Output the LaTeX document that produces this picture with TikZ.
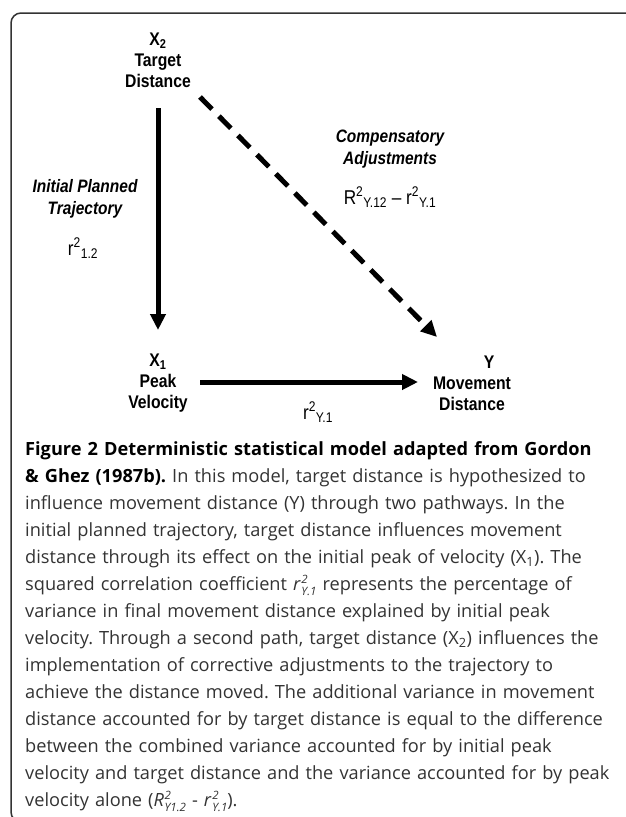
\documentclass[tikz,border=0pt]{standalone}
\usepackage{fontspec}
\setmainfont{Open Sans}
\newfontfamily\arialf[FakeStretch=0.86]{Liberation Sans}
\usetikzlibrary{arrows.meta,calc}
\newcommand\stk[3]{\textit{#1}\kern0.6pt\raisebox{-0.5ex}{\fontsize{11.5}{9.5}\selectfont\itshape\begin{tabular}[b]{@{}l@{}}#2\\#3\end{tabular}}}
\begin{document}
\begin{tikzpicture}[x=1pt,y=-1pt,
  lbl/.style={font=\arialf\bfseries\fontsize{18.3}{21}\selectfont, align=center, inner sep=0pt},
  ilbl/.style={font=\arialf\bfseries\itshape\fontsize{18}{21.5}\selectfont, align=center, inner sep=0pt},
  coef/.style={font=\arialf\fontsize{20}{23}\selectfont, inner sep=0pt},
  arr/.style={line width=5pt, -{Triangle[length=16pt,width=15pt]}},
  darr/.style={arr, dash pattern=on 17pt off 10pt},
  frame/.style={line width=1.5pt, black!80, rounded corners=10pt},
  capt/.style={anchor=north west, inner sep=0pt, text width=615pt, align=left,
    font=\frenchspacing\fontsize{18.2}{27}\selectfont, text=black!80},
]
\useasboundingbox (0,0) rectangle (625,817);
\draw[frame] (650,822) -- (11,822) -- (11,13) -- (650,13);

\node[lbl] (x2) at (158,60) {X\textsubscript{2}\\Target\\Distance};
\node[lbl] (x1) at (158,383) {X\textsubscript{1}\\Peak\\Velocity};
\node[lbl] (y) at (472,383) {\hspace*{34pt}Y\\Movement\\Distance};

\draw[arr] ($(x2)+(0,48)$) -- ($(x1)+(0,-53)$);
\draw[arr] ($(x1)+(42,-1)$) -- ($(y)+(-54,-1)$);
\draw[darr] ($(x2)+(42,37)$) -- ($(y)+(-35,-46)$);

\node[ilbl] (comp) at (390,149) {Compensatory\\Adjustments};
\node[coef] (rdiff) at (390,197) {R\textsuperscript{2}\textsubscript{Y.12} – r\textsuperscript{2}\textsubscript{Y.1}};
\node[ilbl] (ipt) at (85,199) {Initial Planned\\Trajectory};
\node[coef] (r12) at (83,248) {r\textsuperscript{2}\textsubscript{1.2}};
\node[coef] (ry1) at (318,412) {r\textsuperscript{2}\textsubscript{Y.1}};

\node[capt] (cap) at (25,441) {%
\textcolor{black}{\textbf{Figure 2 Deterministic statistical model adapted from Gordon}}\\
\textcolor{black}{\textbf{\& Ghez (1987b).}} In this model, target distance is hypothesized to\\
influence movement distance (Y) through two pathways. In the\\
initial planned trajectory, target distance influences movement\\
distance through its effect on the initial peak of velocity (X\textsubscript{1}). The\\
squared correlation coefficient \stk{r}{2}{Y.1} represents the percentage of\\
variance in final movement distance explained by initial peak\\
velocity. Through a second path, target distance (X\textsubscript{2}) influences the\\
implementation of corrective adjustments to the trajectory to\\
achieve the distance moved. The additional variance in movement\\
distance accounted for by target distance is equal to the difference\\
between the combined variance accounted for by initial peak\\
velocity and target distance and the variance accounted for by peak\\
velocity alone (\stk{R}{2}{Y1.2} - \stk{r}{2}{Y.1}).};
\end{tikzpicture}
\end{document}
